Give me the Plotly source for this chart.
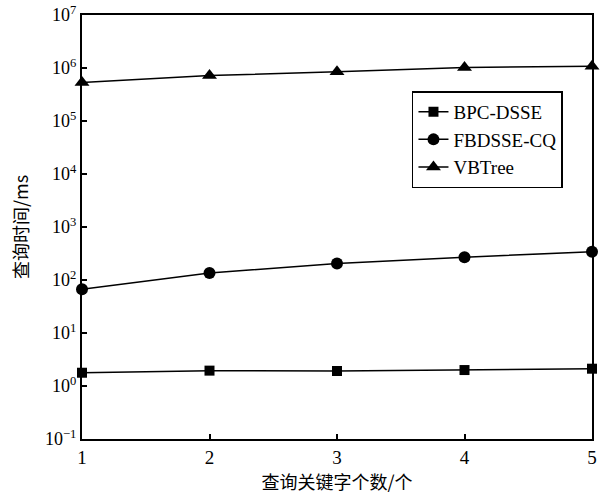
import plotly.graph_objects as go

x_vals = [1, 2, 3, 4, 5]
bpc_dsse = [1.78, 1.95, 1.92, 2.0, 2.12]
fbdsse_cq = [67, 135, 205, 270, 340]
vbtree = [5.3e5, 7.2e5, 8.5e5, 1.02e6, 1.08e6]

series_names = ["BPC-DSSE", "FBDSSE-CQ", "VBTree"]
series_symbols = ["square", "circle", "triangle-up"]
series_sizes = [10, 12, 13]

y_tick_vals = [1e-1, 1e0, 1e1, 1e2, 1e3, 1e4, 1e5, 1e6, 1e7]
y_tick_text = ["10<sup>−1</sup>", "10<sup>0</sup>", "10<sup>1</sup>", "10<sup>2</sup>",
               "10<sup>3</sup>", "10<sup>4</sup>", "10<sup>5</sup>", "10<sup>6</sup>",
               "10<sup>7</sup>"]

x_title = "查询关键字个数/个"
y_title = "查询时间/ms"

serif = "Liberation Serif, Times New Roman, serif"
cjk = "Noto Sans CJK SC"

fig = go.Figure()
for name, vals, sym, sz in zip(series_names, [bpc_dsse, fbdsse_cq, vbtree], series_symbols, series_sizes):
    fig.add_trace(go.Scatter(
        x=x_vals, y=vals, name=name, mode="lines+markers",
        line=dict(color="black", width=1.5),
        marker=dict(symbol=sym, size=sz, color="black"),
        cliponaxis=False,
    ))

fig.update_layout(
    width=604, height=495,
    margin=dict(l=82, r=12, t=15, b=56),
    paper_bgcolor="white", plot_bgcolor="white",
    font=dict(family=serif, size=16, color="black"),
    showlegend=True,
    legend=dict(
        x=0.647, y=0.82, xanchor="left", yanchor="top",
        bordercolor="black", borderwidth=1.5, bgcolor="white",
        font=dict(family=serif, size=19, color="black"),
        tracegroupgap=0, itemwidth=30,
    ),
    xaxis=dict(
        range=[1, 5], tickvals=x_vals, ticktext=[str(v) for v in x_vals],
        showgrid=False, zeroline=False, automargin=False,
        showline=True, linecolor="black", linewidth=2, mirror=True,
        ticks="inside", ticklen=5, tickwidth=1.5, tickcolor="black",
        tickfont=dict(family=serif, size=19),
        title=dict(text=x_title, font=dict(family=cjk, size=18), standoff=10),
    ),
    yaxis=dict(
        type="log", range=[-1, 7], tickvals=y_tick_vals, ticktext=y_tick_text,
        showgrid=False, zeroline=False, automargin=False,
        showline=True, linecolor="black", linewidth=2, mirror=True,
        ticks="inside", ticklen=5, tickwidth=1.5, tickcolor="black",
        tickfont=dict(family=serif, size=18),
        title=dict(text=y_title, font=dict(family=cjk, size=18), standoff=12),
    ),
)

fig.write_html("out.html", config={"displayModeBar": False},
               post_script="document.body.style.margin='0';")
